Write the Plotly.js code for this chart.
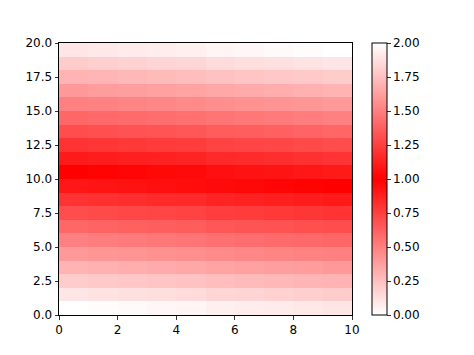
<!DOCTYPE html>
<html>
<head>
<meta charset="utf-8">
<script src="https://cdn.plot.ly/plotly-3.0.1.min.js"></script>
<style>html,body{margin:0;padding:0;background:#fff;}#chart{width:474px;height:355px;}</style>
</head>
<body>
<div id="chart"></div>
<script>
// cell centres
const xCenters = [0.5, 1.5, 2.5, 3.5, 4.5, 5.5, 6.5, 7.5, 8.5, 9.5];
const yCenters = [0.5, 1.5, 2.5, 3.5, 4.5, 5.5, 6.5, 7.5, 8.5, 9.5,
                  10.5, 11.5, 12.5, 13.5, 14.5, 15.5, 16.5, 17.5, 18.5, 19.5];
// values, one row per y cell (bottom to top)
const row00 = [0.00, 0.01, 0.02, 0.03, 0.04, 0.06, 0.07, 0.08, 0.09, 0.10];
const row01 = [0.10, 0.11, 0.12, 0.13, 0.14, 0.16, 0.17, 0.18, 0.19, 0.20];
const row02 = [0.20, 0.21, 0.22, 0.23, 0.24, 0.26, 0.27, 0.28, 0.29, 0.30];
const row03 = [0.30, 0.31, 0.32, 0.33, 0.34, 0.36, 0.37, 0.38, 0.39, 0.40];
const row04 = [0.40, 0.41, 0.42, 0.43, 0.44, 0.46, 0.47, 0.48, 0.49, 0.50];
const row05 = [0.50, 0.51, 0.52, 0.53, 0.54, 0.56, 0.57, 0.58, 0.59, 0.60];
const row06 = [0.60, 0.61, 0.62, 0.63, 0.64, 0.66, 0.67, 0.68, 0.69, 0.70];
const row07 = [0.70, 0.71, 0.72, 0.73, 0.74, 0.76, 0.77, 0.78, 0.79, 0.80];
const row08 = [0.80, 0.81, 0.82, 0.83, 0.84, 0.86, 0.87, 0.88, 0.89, 0.90];
const row09 = [0.91, 0.92, 0.93, 0.94, 0.95, 0.96, 0.97, 0.98, 0.99, 1.00];
const row10 = [1.00, 1.01, 1.02, 1.03, 1.04, 1.06, 1.07, 1.08, 1.09, 1.10];
const row11 = [1.10, 1.11, 1.12, 1.13, 1.14, 1.16, 1.17, 1.18, 1.19, 1.20];
const row12 = [1.20, 1.21, 1.22, 1.23, 1.24, 1.26, 1.27, 1.28, 1.29, 1.30];
const row13 = [1.30, 1.31, 1.32, 1.33, 1.34, 1.36, 1.37, 1.38, 1.39, 1.40];
const row14 = [1.40, 1.41, 1.42, 1.43, 1.44, 1.46, 1.47, 1.48, 1.49, 1.50];
const row15 = [1.50, 1.51, 1.52, 1.53, 1.54, 1.56, 1.57, 1.58, 1.59, 1.60];
const row16 = [1.60, 1.61, 1.62, 1.63, 1.64, 1.66, 1.67, 1.68, 1.69, 1.70];
const row17 = [1.70, 1.71, 1.72, 1.73, 1.74, 1.76, 1.77, 1.78, 1.79, 1.80];
const row18 = [1.80, 1.81, 1.82, 1.83, 1.84, 1.86, 1.87, 1.88, 1.89, 1.90];
const row19 = [1.90, 1.91, 1.92, 1.93, 1.94, 1.96, 1.97, 1.98, 1.99, 2.00];
const zRows = [row00, row01, row02, row03, row04, row05, row06, row07, row08, row09,
               row10, row11, row12, row13, row14, row15, row16, row17, row18, row19];
const xTicks = [0, 2, 4, 6, 8, 10];
const yTicks = [0, 2.5, 5, 7.5, 10, 12.5, 15, 17.5, 20];
const cbTicks = [0, 0.25, 0.5, 0.75, 1, 1.25, 1.5, 1.75, 2];

const font = {family: 'DejaVu Sans, sans-serif', size: 12, color: '#000'};

const trace = {
  type: 'heatmap',
  x: xCenters,
  y: yCenters,
  z: zRows,
  zmin: 0, zmax: 2,
  colorscale: [[0, 'rgb(255,255,255)'], [0.5, 'rgb(255,0,0)'], [1, 'rgb(255,255,255)']],
  hoverinfo: 'none',
  colorbar: {
    thickness: 15,
    thicknessmode: 'pixels',
    len: 272, lenmode: 'pixels',
    x: 1.068, xanchor: 'left',
    y: 1, yanchor: 'top',
    xpad: 0, ypad: 0,
    outlinewidth: 1, outlinecolor: '#000',
    ticks: 'outside', ticklen: 3.5, tickwidth: 0.8, tickcolor: '#000',
    tickvals: cbTicks,
    tickformat: '.2f',
    tickfont: font,
    borderwidth: 0
  }
};

const axisCommon = {
  showgrid: false, zeroline: false,
  showline: true, linecolor: '#000', linewidth: 1, mirror: true,
  ticks: 'outside', ticklen: 3.5, tickwidth: 0.8, tickcolor: '#000',
  tickfont: font
};

const layout = {
  width: 474, height: 355,
  margin: {l: 59, r: 122, t: 43, b: 40},
  paper_bgcolor: '#fff', plot_bgcolor: '#fff',
  font: font,
  xaxis: Object.assign({}, axisCommon, {range: [0, 10], tickvals: xTicks, ticktext: xTicks.map(String)}),
  yaxis: Object.assign({}, axisCommon, {range: [0, 20], tickvals: yTicks, ticktext: yTicks.map(v => v.toFixed(1))})
};

Plotly.newPlot('chart', [trace], layout, {staticPlot: true, displayModeBar: false});
</script>
</body>
</html>
